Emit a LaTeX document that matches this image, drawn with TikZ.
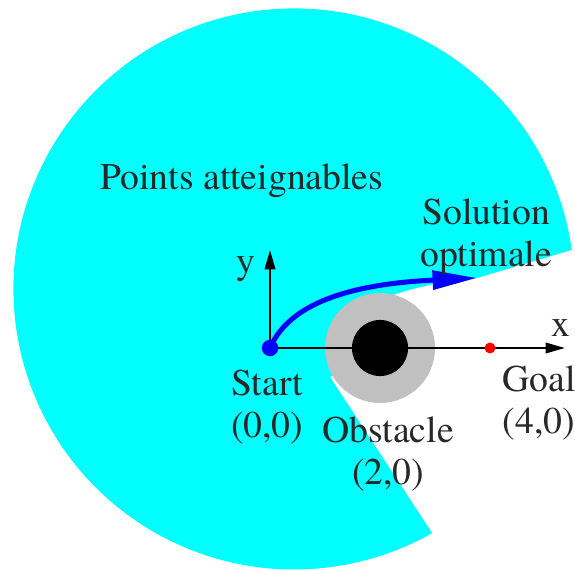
\documentclass[tikz,border=0pt]{standalone}
\usepackage{fontspec}
\setmainfont{TeX Gyre Termes}
\usetikzlibrary{arrows.meta}
\definecolor{zonecyan}{RGB}{0,255,255}
\definecolor{margegris}{RGB}{192,192,192}
\definecolor{texte}{RGB}{40,40,40}
\begin{document}
\begin{tikzpicture}[line join=round,line cap=round,>={Triangle[length=10pt,width=5.5pt]}]
	\tikzset{every node/.style={font=\fontsize{19.5}{21.7}\selectfont,text=texte,align=center},
		pt/.style={circle,inner sep=0pt,minimum size=#1}}
	\def\R{5.1} \def\a{8} \def\b{299.5}
	\useasboundingbox (-4.909,-4.036) rectangle (5.545,6.327);
	\fill[zonecyan] (5.486,1.783) arc[start angle=\a,end angle=\b,radius=\R]
		-- (1.091,-0.527) -- (2,0) -- (2.25,0.97)
		.. controls (2.8,1.15) and (3.3,1.23) .. (3.764,1.273) -- cycle;
	\node[pt=2cm,fill=margegris] (obst) at (2,0) {};
	\node[pt=1.02cm,fill=black] (noyau) at (2,0) {};
	\coordinate (xfin) at (5.36,0);
	\coordinate (yfin) at (0,1.78);
	\coordinate (fin) at (3.764,1.273);
	\node[pt=0.3cm] (start) at (0,0) {};
	\node[pt=0.2cm] (goal) at (4,0) {};
	\draw[->,line width=1pt] (start.center) -- (xfin);
	\draw[->,line width=1pt] (start.center) -- (yfin);
	\draw[blue,line width=2.6pt,line cap=butt,-{Triangle[length=23pt,width=9.5pt]}]
		(start.center) .. controls (0.3,0.7) and (1.2,1.15) .. (fin);
	\fill[blue] (start) circle (0.15);
	\fill[red] (goal) circle (0.1);
	\node (titre) at (-0.51,3.04) {Points atteignables};
	\node (sol) at (3.93,2.02) {Solution\\optimale};
	\node (lstart) at (-0.05,-1.07) {Start\\(0,0)};
	\node (lobst) at (2.15,-1.93) {Obstacle\\(2,0)};
	\node (lgoal) at (4.89,-1.0) {Goal\\(4,0)};
	\node (lx) at (5.29,0.36) {x};
	\node (ly) at (-0.44,1.44) {y};
\end{tikzpicture}
\end{document}
